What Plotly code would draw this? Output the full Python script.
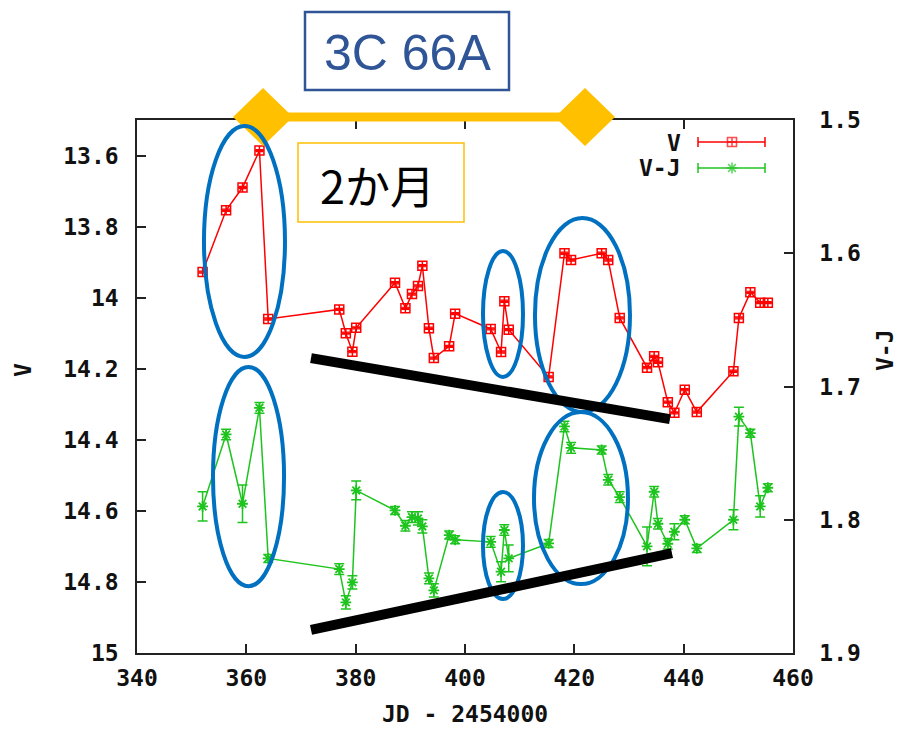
import plotly.graph_objects as go

# Observation epochs (JD - 2454000)
jd = [352.0, 356.3, 359.3, 362.4, 364.0, 377.0, 378.2, 379.4, 380.1, 387.2,
      389.1, 390.3, 391.4, 392.2, 393.4, 394.3, 397.1, 398.2, 404.7, 406.6,
      407.2, 408.0, 415.3, 418.2, 419.4, 425.0, 426.2, 428.3, 433.3, 434.6,
      435.3, 437.1, 438.3, 440.2, 442.4, 449.1, 450.1, 452.2, 454.0, 455.4]

# V-band magnitude
v_mag = [13.928, 13.754, 13.690, 13.586, 14.060, 14.033, 14.100, 14.152, 14.085, 13.958,
         14.030, 13.990, 13.967, 13.910, 14.086, 14.170, 14.137, 14.045, 14.088, 14.153,
         14.010, 14.090, 14.223, 13.875, 13.894, 13.875, 13.894, 14.057, 14.197, 14.165,
         14.182, 14.294, 14.324, 14.259, 14.322, 14.207, 14.057, 13.985, 14.014, 14.014]
v_err = [0.003] * len(jd)

# V-J colour
vj = [1.790, 1.736, 1.788, 1.716, 1.829, 1.837, 1.862, 1.847, 1.778, 1.793,
      1.8045, 1.798, 1.799, 1.805, 1.844, 1.853, 1.8115, 1.815, 1.8166, 1.839,
      1.8077, 1.829, 1.8178, 1.730, 1.746, 1.7476, 1.770, 1.783, 1.820, 1.779,
      1.803, 1.818, 1.809, 1.800, 1.8215, 1.800, 1.7226, 1.735, 1.790, 1.776]
vj_err = [0.011, 0.004, 0.014, 0.004, 0.003, 0.004, 0.005, 0.005, 0.007, 0.003,
          0.004, 0.004, 0.005, 0.005, 0.004, 0.005, 0.003, 0.003, 0.004, 0.0075,
          0.004, 0.010, 0.003, 0.004, 0.004, 0.003, 0.004, 0.004, 0.0145, 0.004,
          0.004, 0.004, 0.006, 0.003, 0.003, 0.0075, 0.007, 0.003, 0.008, 0.003]

x_ticks = [340, 360, 380, 400, 420, 440, 460]
v_ticks = [13.6, 13.8, 14.0, 14.2, 14.4, 14.6, 14.8, 15.0]
v_ticktext = ["13.6", "13.8", "14", "14.2", "14.4", "14.6", "14.8", "15"]
vj_ticks = [1.5, 1.6, 1.7, 1.8, 1.9]
vj_ticktext = ["1.5", "1.6", "1.7", "1.8", "1.9"]

RED = "#ff0000"
GREEN = "#1ec41e"
BLUE = "#0070c0"
GOLD = "#ffc000"
NAVY = "#2f5597"

W, H = 903, 731
L, R, T, B = 137, 110, 120, 78
PW, PH = W - L - R, H - T - B


def px(x):
    return (x - L) / PW


def py(y):
    return (H - B - y) / PH


mono = dict(family="DejaVu Sans Mono", size=23, color="#111111", weight="bold")

fig = go.Figure()

fig.add_trace(go.Scatter(
    x=jd, y=v_mag, name="V", mode="lines+markers",
    line=dict(color=RED, width=1.5),
    marker=dict(symbol="square-cross-open", size=9, color=RED, line=dict(color=RED, width=1.5)),
    error_y=dict(type="data", array=v_err, color=RED, thickness=1.2, width=4),
    yaxis="y", showlegend=False,
))

fig.add_trace(go.Scatter(
    x=jd, y=vj, name="V-J", mode="lines+markers",
    line=dict(color=GREEN, width=1.5),
    marker=dict(symbol="asterisk-open", size=9, color=GREEN, line=dict(color=GREEN, width=1.8)),
    error_y=dict(type="data", array=vj_err, color=GREEN, thickness=1.5, width=5),
    yaxis="y2", showlegend=False,
))

# Legend samples drawn on a hidden unit-square axis pair covering the plot area
leg_x = [px(698), px(732), px(765)]
for yy, color, sym, size in [(py(142), RED, "square-cross-open", 9),
                             (py(168), GREEN, "asterisk-open", 9)]:
    fig.add_trace(go.Scatter(
        x=leg_x, y=[yy] * 3, mode="lines+markers", xaxis="x3", yaxis="y3",
        line=dict(color=color, width=1.5),
        marker=dict(symbol=sym, size=[0, size, 0], color=color, line=dict(color=color, width=1.6)),
        showlegend=False, hoverinfo="skip",
    ))

shapes = []
# legend end caps
for yy, color in [(142, RED), (168, GREEN)]:
    for xx in (698, 765):
        shapes.append(dict(type="line", xref="paper", yref="paper",
                           x0=px(xx), x1=px(xx), y0=py(yy - 5), y1=py(yy + 5),
                           line=dict(color=color, width=1.5)))

# two-month span arrow with diamond heads
shapes.append(dict(type="line", xref="paper", yref="paper",
                   x0=px(262), x1=px(585), y0=py(117), y1=py(117),
                   line=dict(color=GOLD, width=9)))
for cx in (263, 585):
    path = (f"M {px(cx - 30)} {py(117)} L {px(cx)} {py(88)} "
            f"L {px(cx + 30)} {py(117)} L {px(cx)} {py(146)} Z")
    shapes.append(dict(type="path", xref="paper", yref="paper", path=path,
                       fillcolor=GOLD, line=dict(color=GOLD, width=0)))

# text boxes
shapes.append(dict(type="rect", xref="paper", yref="paper",
                   x0=px(305), x1=px(509), y0=py(90), y1=py(12),
                   fillcolor="white", line=dict(color=NAVY, width=2.5)))
shapes.append(dict(type="rect", xref="paper", yref="paper",
                   x0=px(298), x1=px(464), y0=py(222), y1=py(143),
                   fillcolor="white", line=dict(color=GOLD, width=1.5)))

# highlighted episodes
ellipses = [
    (352.25, 367.07, 13.517, 14.167),
    (353.90, 366.90, 14.195, 14.812),
    (403.29, 410.61, 13.869, 14.223),
    (412.80, 430.18, 13.776, 14.322),
    (403.29, 410.61, 14.547, 14.848),
    (412.62, 429.81, 14.322, 14.806),
]
for x0, x1, y0, y1 in ellipses:
    shapes.append(dict(type="circle", xref="x", yref="y", x0=x0, x1=x1, y0=y0, y1=y1,
                       line=dict(color=BLUE, width=4)))

# trend lines
trends = [
    (371.83, 14.170, 437.49, 14.342),
    (371.83, 14.935, 437.86, 14.719),
]
for x0, y0, x1, y1 in trends:
    shapes.append(dict(type="line", xref="x", yref="y", x0=x0, y0=y0, x1=x1, y1=y1,
                       line=dict(color="black", width=10)))


def label(text, x, y, font, xanchor="center", angle=0):
    return dict(text=text, xref="paper", yref="paper", x=px(x), y=py(y),
                xanchor=xanchor, yanchor="middle", textangle=angle,
                showarrow=False, font=font)


annotations = [
    label("3C 66A", 407, 53, dict(family="Liberation Sans, Arial", size=50, color=NAVY)),
    label("2か月", 377, 184, dict(family="Noto Sans CJK JP", size=45, color="black")),
    label("V", 683, 143, mono, xanchor="right"),
    label("V-J", 683, 168, mono, xanchor="right"),
    label("V", 23, 370, mono, angle=-90),
    label("V-J", 885, 350, mono, angle=-90),
    label("JD - 2454000", 465, 714, mono),
]

axis_line = dict(showline=True, linecolor="#222222", linewidth=1.5,
                 ticks="inside", ticklen=9, tickwidth=1.5, tickcolor="#222222",
                 showgrid=False, zeroline=False, tickfont=mono)

fig.update_layout(
    width=W, height=H,
    margin=dict(l=L, r=R, t=T, b=B, pad=0),
    paper_bgcolor="white", plot_bgcolor="white",
    showlegend=False,
    xaxis=dict(range=[340, 460], tickvals=x_ticks, mirror="ticks",
               ticklabelstandoff=4, **axis_line),
    yaxis=dict(range=[15, 13.5], tickvals=v_ticks, ticktext=v_ticktext,
               ticklabelstandoff=12, **axis_line),
    yaxis2=dict(range=[1.9, 1.5], tickvals=vj_ticks, ticktext=vj_ticktext,
                overlaying="y", side="right", ticklabelstandoff=20, **axis_line),
    xaxis3=dict(domain=[0, 1], range=[0, 1], visible=False, anchor="y3", overlaying="x"),
    yaxis3=dict(domain=[0, 1], range=[0, 1], visible=False, anchor="x3", overlaying="y"),
    shapes=shapes,
    annotations=annotations,
)

fig.write_html("out.html")
